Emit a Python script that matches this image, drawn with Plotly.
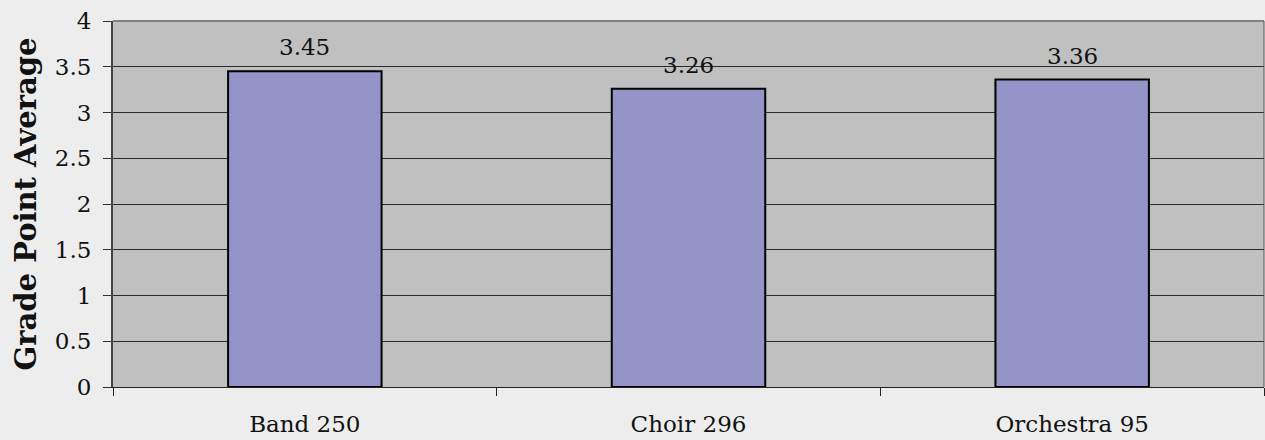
import plotly.graph_objects as go

categories = ["Band 250", "Choir 296", "Orchestra 95"]
gpa = [3.45, 3.26, 3.36]
y_ticks = [0, 0.5, 1, 1.5, 2, 2.5, 3, 3.5, 4]
y_tick_text = ["0", "0.5", "1", "1.5", "2", "2.5", "3", "3.5", "4"]

FONT = "DejaVu Serif"

fig = go.Figure()
fig.add_trace(go.Bar(
    x=categories, y=gpa,
    marker=dict(color="#9494C8", line=dict(color="#000000", width=2)),
    width=0.4,
))

for c, v in zip(categories, gpa):
    fig.add_annotation(x=c, y=v, text=f"{v:.2f}", showarrow=False,
                       yanchor="bottom", yshift=9,
                       font=dict(family=FONT, size=23, color="#111111"))

fig.add_shape(type="line", xref="paper", yref="paper", x0=0, x1=1, y0=1, y1=1,
              line=dict(color="#808080", width=2))
fig.add_shape(type="line", xref="paper", yref="paper", x0=1, x1=1, y0=0, y1=1,
              line=dict(color="#555555", width=1))

fig.update_layout(
    width=1265, height=440,
    margin=dict(l=113, r=1, t=21, b=53),
    paper_bgcolor="#EDEDED", plot_bgcolor="#C0C0C0",
    showlegend=False,
    font=dict(family=FONT, size=23, color="#111111"),
    xaxis=dict(tickson="boundaries", ticks="outside", ticklen=8, tickcolor="#222222",
               showline=True, linecolor="#222222", linewidth=1, showgrid=False,
               ticklabelstandoff=16,
               tickfont=dict(family=FONT, size=23)),
    yaxis=dict(range=[0, 4], tickvals=y_ticks, ticktext=y_tick_text,
               ticks="outside", ticklen=8, tickcolor="#333333",
               showline=True, linecolor="#444444", linewidth=2,
               showgrid=True, gridcolor="#2A2A2A", gridwidth=1,
               zeroline=False, ticklabelstandoff=7,
               title=dict(text="<b>Grade Point Average</b>", standoff=10,
                          font=dict(family=FONT, size=29, color="#111111")),
               tickfont=dict(family=FONT, size=23)),
)

fig.write_html("out.html", config={"displayModeBar": False},
               post_script="document.body.style.margin='0';")
